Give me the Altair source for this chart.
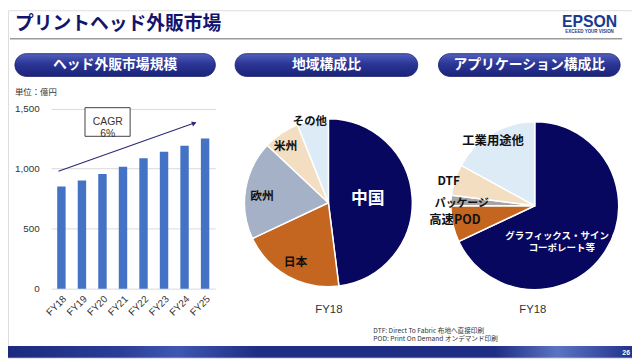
import altair as alt
import pandas as pd

# ---------------- data ----------------
years = ["FY18", "FY19", "FY20", "FY21", "FY22", "FY23", "FY24", "FY25"]
market = [850, 900, 955, 1015, 1085, 1140, 1190, 1250]   # 億円
y_ticks = [0, 500, 1000, 1500]

regions = ["中国", "日本", "欧州", "米州", "その他"]
region_share = [48, 20, 19, 7, 6]

apps = ["グラフィックス・サイン・\nコーポレート等", "高速POD", "パッケージ", "DTF", "工業用途他"]
app_share = [68, 7, 2, 6, 17]

cagr_label = "CAGR\n6%"
arrow_years = ["FY18", "FY25"]
arrow_values = [978, 1383]

title_text = "プリントヘッド外販市場"
section_titles = ["ヘッド外販市場規模", "地域構成比", "アプリケーション構成比"]
unit_text = "単位：億円"
pie_caption = "FY18"
footnotes = ["DTF: Direct To Fabric 布地へ直接印刷", "POD: Print On Demand オンデマンド印刷"]
page_no = "26"

# ---------------- styling ----------------
W, H = 632, 352
JP = "Noto Sans CJK JP"
LAT = "Liberation Sans"
NAVY = "#07075F"

one = pd.DataFrame({"a": [0]})


def by_index(vals):
    expr = repr(vals[-1])
    for k in range(len(vals) - 2, -1, -1):
        expr = f"(datum.i === {k} ? {vals[k]!r} : {expr})"
    return expr


def text(t, x, y, **kw):
    return alt.Chart(one).mark_text(text=t, **kw).encode(x=alt.value(x), y=alt.value(y))


layers = []

# title, rule, logo
layers.append(text(title_text, 7, 14, font=JP, fontWeight="bold", fontSize=19,
                   color="#14146B", align="left", baseline="middle"))
layers.append(alt.Chart(one).mark_rule(color="#9C9C9C", strokeWidth=1.5).encode(
    x=alt.value(2), x2=alt.value(622), y=alt.value(29)))
layers.append(text("EPSON", 589, 16.5, font=LAT, fontWeight="bold", fontSize=16,
                   color="#1B3A8C", align="center", baseline="alphabetic"))
layers.append(text("EXCEED YOUR VISION", 589, 23, font=LAT, fontWeight="bold", fontSize=4.5,
                   color="#1B3A8C", align="center", baseline="alphabetic"))

# section pills
pill_grad = alt.LinearGradient(
    gradient="linear", x1=0, y1=0, x2=0, y2=1,
    stops=[alt.GradientStop(color="#5360BE", offset=0),
           alt.GradientStop(color="#2B3696", offset=0.45),
           alt.GradientStop(color="#1B2479", offset=1)])
pills = [(7, 210), (230, 415), (436, 620)]
for (x0, x1), t in zip(pills, section_titles):
    layers.append(alt.Chart(one).mark_rect(cornerRadius=11.5, color=pill_grad,
                                           stroke="#15196A", strokeWidth=0.8).encode(
        x=alt.value(x0), x2=alt.value(x1), y=alt.value(44), y2=alt.value(67)))
    layers.append(text(t, (x0 + x1) / 2, 56, font=JP, fontWeight="bold", fontSize=14,
                       color="white", align="center", baseline="middle"))

layers.append(text(unit_text, 7, 83, font=JP, fontSize=8.5, color="#333333",
                   align="left", baseline="middle"))

# ---------------- bar chart ----------------
xscale = alt.Scale(domain=years, range=[43.7, 210], paddingInner=0.59, paddingOuter=0.295)
yscale = alt.Scale(domain=[0, 1500], range=[282, 99.5], nice=False)
xaxis = alt.Axis(title=None, labelAngle=-45, domain=False, ticks=False, grid=False,
                 labelPadding=5, offset=-70, labelFontSize=10, labelColor="#333333",
                 labelFont=LAT)
yaxis = alt.Axis(title=None, values=y_ticks, labelExpr="format(datum.value, ',')",
                 domain=False, ticks=False,
                 labelPadding=12, offset=-43.7, gridColor="#D9D9D9", labelFontSize=10,
                 labelColor="#333333", labelFont=LAT)

bar_df = pd.DataFrame({"year": years, "value": market})
layers.append(alt.Chart(bar_df).mark_bar(color="#4472C4").encode(
    x=alt.X("year:N", scale=xscale, sort=years, axis=xaxis),
    y=alt.Y("value:Q", scale=yscale, axis=yaxis)))

arrow_df = pd.DataFrame({"year": [arrow_years[0]], "year2": [arrow_years[1]],
                         "value": [arrow_values[0]], "value2": [arrow_values[1]]})
layers.append(alt.Chart(arrow_df).mark_rule(color="#2A2A78", strokeWidth=1.1,
                                            xOffset=-3, x2Offset=-9.5).encode(
    x=alt.X("year:N", scale=xscale, sort=years, axis=xaxis, bandPosition=0.5),
    x2=alt.X2("year2", bandPosition=0.5),
    y=alt.Y("value:Q", scale=yscale, axis=yaxis),
    y2="value2"))
head_df = pd.DataFrame({"year": [arrow_years[1]], "value": [arrow_values[1]]})
layers.append(alt.Chart(head_df).mark_point(shape="triangle-right", filled=True, size=28,
                                            color="#2A2A78", opacity=1, angle=340,
                                            xOffset=-11, yOffset=0.7).encode(
    x=alt.X("year:N", scale=xscale, sort=years, axis=xaxis),
    y=alt.Y("value:Q", scale=yscale, axis=yaxis)))

layers.append(alt.Chart(one).mark_rect(fill="white", stroke="#404040", strokeWidth=1).encode(
    x=alt.value(78), x2=alt.value(123.7), y=alt.value(98.7), y2=alt.value(127.7)))
layers.append(text(cagr_label, 101, 113.5, font=LAT, fontSize=10.5, color="#333333",
                   align="center", baseline="middle", lineBreak="\n", lineHeight=12))

# ---------------- pies ----------------
def pie(cats, vals, cx, cy, colors, radii, tcols, sizes, ldx, ldy):
    df = pd.DataFrame({"cat": cats, "v": vals, "i": list(range(len(cats)))})
    arc = alt.Chart(df).transform_calculate(col=by_index(colors)).mark_arc(
        outerRadius=85, stroke="white", strokeWidth=1.5).encode(
        theta=alt.Theta("v:Q", stack=True),
        color=alt.Color("col:N", scale=None),
        order=alt.Order("i:Q"),
        x=alt.value(cx), y=alt.value(cy))
    lab = alt.Chart(df).transform_window(
        cum="sum(v)", sort=[alt.SortField("i")], frame=[None, 0]
    ).transform_calculate(
        mid="datum.cum - datum.v / 2",
        r=by_index(radii), tc=by_index(tcols), fs=by_index(sizes),
        ldx=by_index(ldx), ldy=by_index(ldy)).mark_text(
        font=JP, fontWeight="bold", align="center", baseline="middle",
        lineBreak="\n", lineHeight=12.7,
        dx=alt.ExprRef(expr="datum.ldx"), dy=alt.ExprRef(expr="datum.ldy")).encode(
        theta=alt.Theta("mid:Q", stack=None),
        radius=alt.Radius("r:Q", scale=None),
        text="cat:N",
        color=alt.Color("tc:N", scale=None),
        size=alt.Size("fs:Q", scale=None),
        x=alt.value(cx), y=alt.value(cy))
    return [arc, lab]


C_MAIN, C_ORANGE, C_GREYBLUE, C_PEACH, C_LIGHT, C_GREY = (
    NAVY, "#C4661F", "#A5B1C6", "#F4DEC2", "#DDEBF7", "#A6A6A6")

layers += pie(regions, region_share, 324.5, 195,
              colors=[C_MAIN, C_ORANGE, C_GREYBLUE, C_PEACH, C_LIGHT],
              radii=[40, 69, 68, 72, 84],
              tcols=["#FFFFFF", "#111111", "#111111", "#111111", "#111111"],
              sizes=[17, 12, 12, 12, 11.5],
              ldx=[0, 0, 0, -3, -3], ldy=[-1, 0, 4, 2, 1])

layers += pie(apps, app_share, 533.5, 198,
              colors=[C_MAIN, C_ORANGE, C_GREY, C_PEACH, C_LIGHT],
              radii=[36, 87, 80, 97, 81],
              tcols=["#FFFFFF", "#111111", "#111111", "#111111", "#111111"],
              sizes=[9.6, 12.5, 11, 12, 12.5],
              ldx=[-3, 4, 6, 5, -1], ldy=[11, -4, 3, 5, 4])

layers.append(text(pie_caption, 325, 304, font=LAT, fontSize=11.5, color="#333333",
                   align="center", baseline="middle"))
layers.append(text(pie_caption, 531.5, 304, font=LAT, fontSize=11.5, color="#333333",
                   align="center", baseline="middle"))

# footnotes
for k, t in enumerate(footnotes):
    layers.append(text(t, 370, 324.6 + 8.6 * k, font=JP, fontSize=6.7, color="#333333",
                       align="left", baseline="middle"))

# footer band
band_grad = alt.LinearGradient(
    gradient="linear", x1=0, y1=0, x2=1, y2=0,
    stops=[alt.GradientStop(color="#1C2A7E", offset=0),
           alt.GradientStop(color="#2B3D98", offset=0.18),
           alt.GradientStop(color="#3E58B2", offset=0.27),
           alt.GradientStop(color="#1F2D84", offset=0.4),
           alt.GradientStop(color="#1F2D84", offset=0.78),
           alt.GradientStop(color="#5B74C2", offset=0.88),
           alt.GradientStop(color="#22338C", offset=1)])
layers.append(alt.Chart(one).mark_rect(color=band_grad).encode(
    x=alt.value(0), x2=alt.value(W), y=alt.value(340), y2=alt.value(H)))
layers.append(text(page_no, 630, 347, font=LAT, fontWeight="bold", fontSize=7,
                   color="white", align="right", baseline="middle"))

chart = alt.layer(*layers).properties(
    width=W, height=H, autosize=alt.AutoSizeParams(type="none"), padding=0
).configure_view(stroke=None).configure(background="white")

chart.save("out.html", embed_options={"renderer": "svg", "actions": False})
